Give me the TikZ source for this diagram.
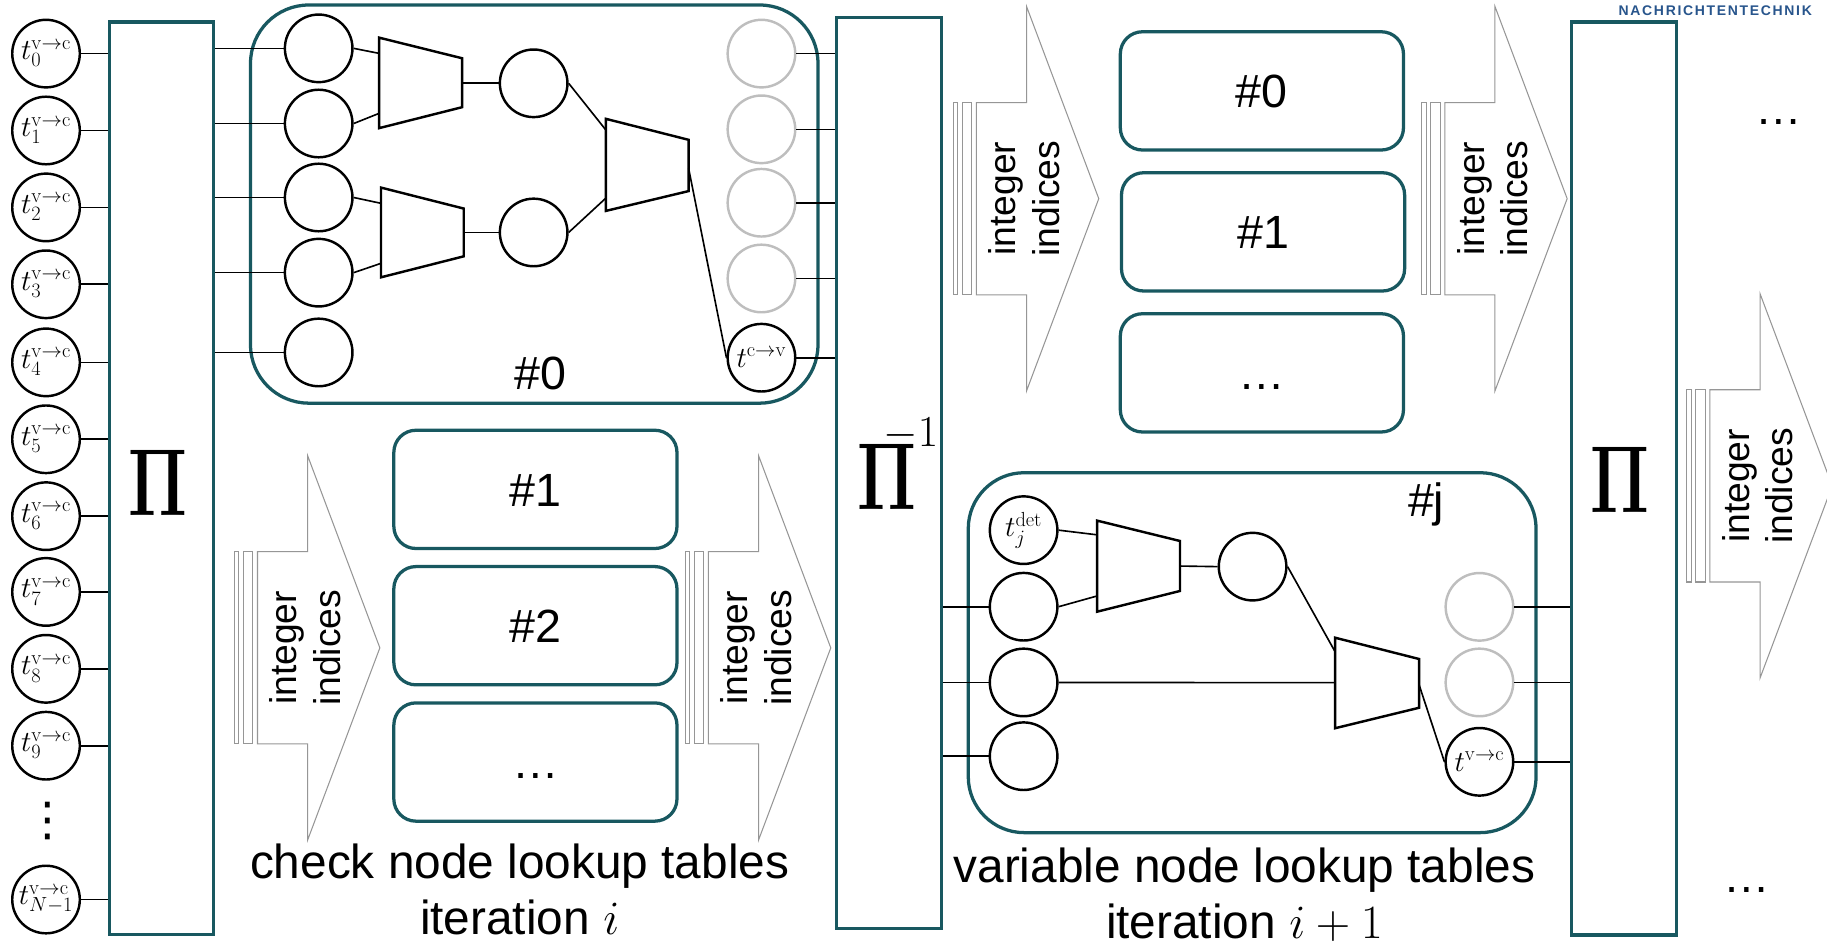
\RequirePackage{fix-cm}
\documentclass[tikz,border=0pt]{standalone}
\usepackage[no-math]{fontspec}
\usepackage{graphicx}
\newfontfamily\sans{Liberation Sans}
\newfontfamily\symfont{DejaVu Sans}
\newfontfamily\logofont[LetterSpace=12]{Liberation Sans Bold}
\definecolor{tabteal}{RGB}{24,88,96}
\definecolor{ghostgray}{RGB}{190,190,190}
\definecolor{arrowgray}{RGB}{150,150,150}
\definecolor{logoblue}{RGB}{40,85,140}
\newcommand\permsym{\scalebox{0.7}[1]{$\mathbf{\Pi}$}}
\tikzset{
  perm/.style={draw=tabteal, line width=2.8, rectangle, inner sep=0},
  cbox/.style={draw=tabteal, line width=2.8},
  tbl/.style={draw=tabteal, line width=2.8, rounded corners=19, minimum width=243, minimum height=101.5,
              inner sep=0, text height=29, text depth=0, font=\sans\fontsize{40}{40}\selectfont},
  circ/.style={circle, draw, line width=2.1, minimum size=58, inner sep=0, font=\fontsize{25}{25}\selectfont},
  ghost/.style={circ, draw=ghostgray},
  wire/.style={line width=1.4},
  trap/.style={line width=2.1, line join=miter},
  blk/.style={draw=arrowgray, line width=0.9, fill=white},
  lbl/.style={inner sep=0, font=\sans\fontsize{40}{40}\selectfont},
  bigpi/.style={inner sep=0, anchor=base, font=\fontsize{82}{82}\selectfont},
  caption/.style={align=center, font=\sans\fontsize{41}{48}\selectfont},
  pics/idxarrow/.style={code={
    \draw[blk] (0,-82.5) rectangle (4,82.5);
    \draw[blk] (8,-82.5) rectangle (16,82.5);
    \draw[blk] (20,-82.5) -- (63,-82.5) -- (63,-165) -- (125,0) -- (63,165) -- (63,82.5) -- (20,82.5) -- cycle;
    \node[rotate=90, align=center, inner sep=0, font=\sans\fontsize{32}{37.5}\selectfont] at (61,0) {integer\\indices};
  }}
}
\begin{document}
\begin{tikzpicture}[x=1pt, y=-1pt, font=\sans]
\useasboundingbox (0,0) rectangle (1568,813);

% ---------- permutation blocks ----------
\node[perm, anchor=north west, minimum width=89.5, minimum height=783] (piL) at (92.5,17.5) {};
\node[perm, anchor=north west, minimum width=90, minimum height=782] (piI) at (716.5,13.5) {};
\node[perm, anchor=north west, minimum width=90.5, minimum height=783.5] (piR) at (1347,17.5) {};
\node[bigpi] (piLlabel) at (135.2,442) {\permsym};
\node[bigpi, anchor=base west] (piIlabel) at (735.5,437)
  {\permsym\hspace{-28pt}\raisebox{54pt}{\fontsize{38}{38}\selectfont$-1$}};
\node[bigpi] (piRlabel) at (1390,440) {\permsym};

% ---------- variable-to-check messages ----------
\foreach \k/\y in {0/46,1/112,2/178,3/244,4/311,5/377,6/443,7/508,8/574,9/640} {
  \node[circ] (t\k) at (39.5,\y) {$t_{\k}^{\mathrm{v}\to\mathrm{c}}$};
  \draw[wire] (t\k) -- (t\k -| piL.west);
}
\node[inner sep=0, font=\symfont\fontsize{40}{40}\selectfont] (vdots) at (41,705) {⋮};
\node[circ] (tN) at (39.5,772) {$t_{N-1}^{\mathrm{v}\to\mathrm{c}}$};
\draw[wire] (tN) -- (tN -| piL.west);

% ---------- check node table #0 (expanded) ----------
\draw[cbox, rounded corners=50] (215,4.3) rectangle (702,346);
\foreach \i/\y in {1/41.5,2/106,3/169.5,4/234,5/302.5} {
  \node[circ] (a\i) at (273.5,\y) {};
  \draw[wire] (a\i -| piL.east) -- (a\i);
}
\draw[trap] (325.3,32.3) -- (396.6,50) -- (396.6,92) -- (325.3,110) -- cycle;
\coordinate (q1a) at (325.3,45.8); \coordinate (q1b) at (325.3,97.3); \coordinate (q1o) at (396.6,71.5);
\draw[trap] (327,161) -- (398,179) -- (398,220) -- (327,238) -- cycle;
\coordinate (q2a) at (327,174.5); \coordinate (q2b) at (327,226); \coordinate (q2o) at (398,199.5);
\draw[trap] (520,102) -- (591,120) -- (591,164) -- (520,181) -- cycle;
\coordinate (q3a) at (520,111.6); \coordinate (q3b) at (520,170); \coordinate (q3o) at (591,144.5);
\node[circ] (m1) at (458,71.5) {};
\node[circ] (m2) at (458,199.5) {};
\foreach \i/\y in {1/46,2/111,3/174,4/239} {
  \node[ghost] (g\i) at (653.5,\y) {};
  \draw[wire] (g\i) -- (g\i -| piI.west);
}
\node[circ] (tcv) at (653.5,307) {$t^{\mathrm{c}\to\mathrm{v}}$};
\draw[wire] (tcv) -- (tcv -| piI.west);
\draw[wire] (a1.east) -- (q1a);
\draw[wire] (a2.east) -- (q1b);
\draw[wire] (a3.east) -- (q2a);
\draw[wire] (a4.east) -- (q2b);
\draw[wire] (q1o) -- (m1.west);
\draw[wire] (q2o) -- (m2.west);
\draw[wire] (m1.east) -- (q3a);
\draw[wire] (m2.east) -- (q3b);
\draw[wire] (q3o) -- (tcv.west);
\node[lbl, anchor=base] (cn0) at (464,334.7) {\#0};

% ---------- remaining check node tables ----------
\node[tbl] (cb1) at (459.5,420) {\#1};
\node[tbl] (cb2) at (459.5,537) {\#2};
\node[tbl] (cb3) at (459.5,654) {…};
\pic at (201,556) {idxarrow};
\pic at (588,556) {idxarrow};
\node[caption] (cncap) at (446,763) {check node lookup tables\\iteration $i$};

% ---------- variable node tables ----------
\pic at (818,170.5) {idxarrow};
\node[tbl] (vb0) at (1083,78) {\#0};
\node[tbl] (vb1) at (1084,199) {\#1};
\node[tbl] (vb2) at (1083,320) {…};
\pic at (1220,170.5) {idxarrow};

% ---------- variable node table #j (expanded) ----------
\draw[cbox, rounded corners=48] (831,405.7) rectangle (1318.3,714.6);
\node[lbl, anchor=base] (vnj) at (1224,443.4) {\#j};
\node[circ] (tdet) at (878.5,455) {$t_j^{\mathrm{det}}$};
\node[circ] (c2) at (878.5,520.7) {};
\node[circ] (c3) at (878.5,585.7) {};
\node[circ] (c4) at (878.5,649) {};
\foreach \n in {c2,c3,c4} { \draw[wire] (\n -| piI.east) -- (\n); }
\draw[trap] (941.5,446.8) -- (1012.7,464.3) -- (1012.7,507.2) -- (941.5,525) -- cycle;
\coordinate (qAa) at (941.5,459); \coordinate (qAb) at (941.5,511.5); \coordinate (qAo) at (1012.7,485.8);
\node[circ] (cm) at (1075,486.3) {};
\draw[trap] (1145.8,547.3) -- (1218,565.6) -- (1218,607.4) -- (1145.8,625) -- cycle;
\coordinate (qBa) at (1145.8,559.3); \coordinate (qBb) at (1145.8,585.9); \coordinate (qBo) at (1218,588);
\node[ghost] (r1) at (1269.7,520.8) {};
\node[ghost] (r2) at (1269.7,585.7) {};
\node[circ] (tvc) at (1269.7,653.8) {$t^{\mathrm{v}\to\mathrm{c}}$};
\draw[wire] (tdet.east) -- (qAa);
\draw[wire] (c2.east) -- (qAb);
\draw[wire] (qAo) -- (cm.west);
\draw[wire] (cm.east) -- (qBa);
\draw[wire] (c3.east) -- (qBb);
\draw[wire] (qBo) -- (tvc.west);
\foreach \n in {r1,r2,tvc} { \draw[wire] (\n) -- (\n -| piR.west); }
\node[caption] (vncap) at (1068,768) {variable node lookup tables\\iteration $i+1$};

% ---------- next stage ----------
\pic at (1447.5,417) {idxarrow};
\node[lbl, anchor=base] (moreT) at (1527,107) {…};
\node[lbl, anchor=base] (moreB) at (1499.5,766) {…};
\node[inner sep=0, anchor=base west, text=logoblue, font=\logofont\fontsize{12}{12}\selectfont] (logo) at (1389,13.3) {NACHRICHTENTECHNIK};
\end{tikzpicture}
\end{document}
